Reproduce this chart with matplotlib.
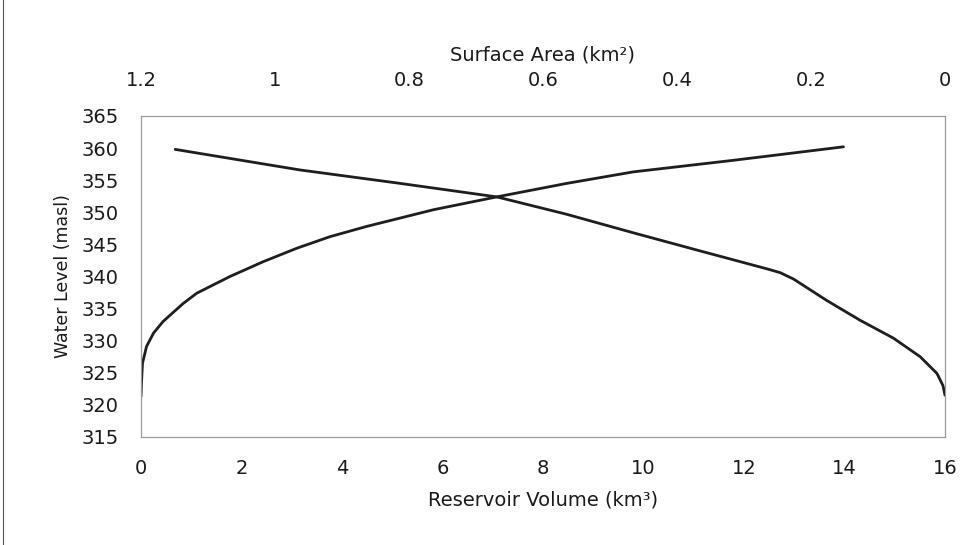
import matplotlib
matplotlib.use("Agg")
import matplotlib.pyplot as plt
from matplotlib.lines import Line2D

plt.rcParams['font.family'] = ['DejaVu Sans']

# Reservoir volume curve (km^3) vs water level (masl)
volume = [0.0, 0.01, 0.03, 0.11, 0.25, 0.44, 0.84, 1.11, 1.77, 2.43, 3.10, 3.76, 4.49, 5.82, 7.08, 8.47, 9.80, 11.79, 13.98]
volume_level = [321.3, 323.5, 326.5, 329.1, 331.2, 333.0, 335.8, 337.4, 340.0, 342.3, 344.4, 346.2, 347.8, 350.4, 352.4, 354.5, 356.3, 358.1, 360.2]

# Surface area curve (km^2) vs water level (masl)
area = [1.149, 0.963, 0.813, 0.669, 0.565, 0.465, 0.366, 0.266, 0.246, 0.226, 0.177, 0.127, 0.077, 0.037, 0.012, 0.003, 0.0]
area_level = [359.8, 356.6, 354.5, 352.4, 349.7, 346.8, 344.0, 341.2, 340.6, 339.6, 336.3, 333.2, 330.4, 327.5, 324.9, 323.0, 321.5]

volume_ticks = [0, 2, 4, 6, 8, 10, 12, 14, 16]
area_ticks = [1.2, 1.0, 0.8, 0.6, 0.4, 0.2, 0.0]
area_ticklabels = ["1.2", "1", "0.8", "0.6", "0.4", "0.2", "0"]
level_ticks = [315, 320, 325, 330, 335, 340, 345, 350, 355, 360, 365]

fig = plt.figure(figsize=(9.62, 5.45), dpi=100)
ax = fig.add_axes([141/962, 1-437/545, (945-141)/962, (437-116)/545])

text_color = "#1a1a1a"
line_color = "#1e1e1e"
ax.plot(volume, volume_level, color=line_color, lw=2.0, solid_capstyle='round', solid_joinstyle='round')
ax.set_xlim(0, 16)
ax.set_ylim(315, 365)
ax.set_xticks(volume_ticks)
ax.set_yticks(level_ticks)
ax.tick_params(length=0, labelsize=14, colors=text_color)
ax.tick_params(axis='y', pad=16)
ax.tick_params(axis='x', pad=16)
ax.set_xlabel("Reservoir Volume (km³)", fontsize=14, color=text_color, labelpad=9)
ax.set_ylabel("Water Level (masl)", fontsize=12.5, color=text_color, labelpad=7)

ax2 = ax.twiny()
ax2.plot(area, area_level, color=line_color, lw=2.0, solid_capstyle='round', solid_joinstyle='round')
ax2.set_xlim(1.2, 0)
ax2.set_xticks(area_ticks)
ax2.set_xticklabels(area_ticklabels)
ax2.tick_params(length=0, labelsize=14, colors=text_color, pad=19)
ax2.set_xlabel("Surface Area (km²)", fontsize=14, color=text_color, labelpad=7)

for a in (ax, ax2):
    for s in a.spines.values():
        s.set_linestyle((0, (1, 1)))
        s.set_color("#9a9a9a")
        s.set_linewidth(0.8)

# page edge line at left
fig.add_artist(Line2D([3/962, 3/962], [0, 1], transform=fig.transFigure, color="#555555", lw=0.8))

fig.savefig("out.png", dpi=100, facecolor="white")
